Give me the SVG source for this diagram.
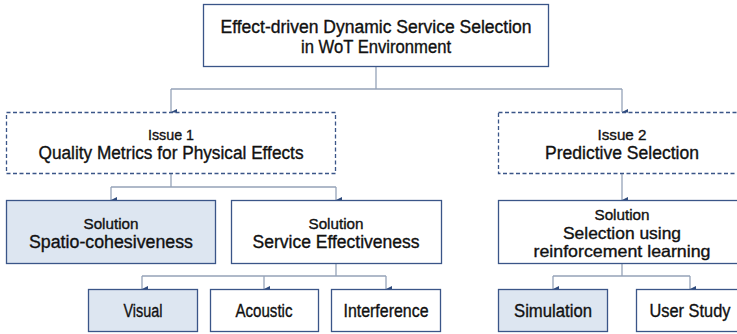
<svg xmlns="http://www.w3.org/2000/svg" width="737" height="334" viewBox="0 0 737 334">
<defs>
<marker id="arr" viewBox="0 0 8 8" refX="4" refY="8" markerWidth="8" markerHeight="8" markerUnits="userSpaceOnUse" orient="auto-start-reverse">
<path d="M1,2 L7,2 L4,8 Z" fill="#2f4b7c"/>
</marker>
<style>
.box{fill:#ffffff;stroke:#3a5588;stroke-width:1.3}
.fill{fill:#dde6f1}
.dash{fill:#ffffff;stroke:#3a5588;stroke-width:1.3;stroke-dasharray:4 2.5}
.conn{fill:none;stroke:#95a3b8;stroke-width:1.3}
.arr{marker-end:url(#arr)}
text{font-family:"Liberation Sans",Arial,sans-serif;fill:#111111;stroke:#111111;stroke-width:0.35;text-anchor:middle}
.big{font-size:18px}
.mid{font-size:16.5px}
.sm{font-size:15px}
</style>
</defs>
<rect width="737" height="334" fill="#ffffff"/>
<g id="connectors">
<path class="conn" d="M376,66 V89 M171,89 H622"/>
<path class="conn arr" d="M171,89 V112"/>
<path class="conn arr" d="M622,89 V112"/>
<path class="conn" d="M171,174 V187 M111,187 H336"/>
<path class="conn arr" d="M111,187 V200"/>
<path class="conn arr" d="M336,187 V200"/>
<path class="conn arr" d="M622,174 V200"/>
<path class="conn" d="M336,263 V276 M142,276 H386"/>
<path class="conn arr" d="M142,276 V289"/>
<path class="conn arr" d="M264,276 V289"/>
<path class="conn arr" d="M386,276 V289"/>
<path class="conn" d="M622,263 V276 M553,276 H690"/>
<path class="conn arr" d="M553,276 V289"/>
<path class="conn arr" d="M690,276 V289"/>
</g>
<g id="root">
<rect class="box" x="203.5" y="4.5" width="345" height="62"/>
<text class="big" x="376" y="33" textLength="311" lengthAdjust="spacingAndGlyphs">Effect-driven Dynamic Service Selection</text>
<text class="big" x="376" y="53" textLength="150" lengthAdjust="spacingAndGlyphs">in WoT Environment</text>
</g>
<g id="issue1">
<rect class="dash" x="6.5" y="112.5" width="329" height="61"/>
<text class="sm" x="171" y="140" textLength="46" lengthAdjust="spacingAndGlyphs">Issue 1</text>
<text class="big" x="171" y="159" textLength="265" lengthAdjust="spacingAndGlyphs">Quality Metrics for Physical Effects</text>
</g>
<g id="issue2">
<rect class="dash" x="498.5" y="112.5" width="250" height="61"/>
<text class="sm" x="622" y="140" textLength="49" lengthAdjust="spacingAndGlyphs">Issue 2</text>
<text class="big" x="622" y="159" textLength="154" lengthAdjust="spacingAndGlyphs">Predictive Selection</text>
</g>
<g id="sol-spatio">
<rect class="box fill" x="6.5" y="200.5" width="209" height="63"/>
<text class="sm" x="111" y="229" textLength="55" lengthAdjust="spacingAndGlyphs">Solution</text>
<text class="big" x="111" y="248" textLength="164" lengthAdjust="spacingAndGlyphs">Spatio-cohesiveness</text>
</g>
<g id="sol-effect">
<rect class="box" x="231.5" y="200.5" width="210" height="63"/>
<text class="sm" x="336" y="229" textLength="55" lengthAdjust="spacingAndGlyphs">Solution</text>
<text class="big" x="336" y="248" textLength="167" lengthAdjust="spacingAndGlyphs">Service Effectiveness</text>
</g>
<g id="sol-rl">
<rect class="box" x="498.5" y="200.5" width="250" height="63"/>
<text class="sm" x="622" y="220" textLength="55" lengthAdjust="spacingAndGlyphs">Solution</text>
<text class="mid" x="622" y="239" textLength="118" lengthAdjust="spacingAndGlyphs">Selection using</text>
<text class="mid" x="622" y="257" textLength="177" lengthAdjust="spacingAndGlyphs">reinforcement learning</text>
</g>
<g id="visual">
<rect class="box fill" x="88.5" y="289.5" width="109" height="42"/>
<text class="big" x="143" y="317" textLength="39" lengthAdjust="spacingAndGlyphs">Visual</text>
</g>
<g id="acoustic">
<rect class="box" x="210.5" y="289.5" width="108" height="42"/>
<text class="big" x="264" y="317" textLength="57" lengthAdjust="spacingAndGlyphs">Acoustic</text>
</g>
<g id="interference">
<rect class="box" x="331.5" y="289.5" width="109" height="42"/>
<text class="big" x="386" y="317" textLength="85" lengthAdjust="spacingAndGlyphs">Interference</text>
</g>
<g id="simulation">
<rect class="box fill" x="498.5" y="289.5" width="109" height="42"/>
<text class="big" x="553" y="317" textLength="78" lengthAdjust="spacingAndGlyphs">Simulation</text>
</g>
<g id="userstudy">
<rect class="box" x="636.5" y="289.5" width="112" height="42"/>
<text class="big" x="690" y="317" textLength="81" lengthAdjust="spacingAndGlyphs">User Study</text>
</g>
</svg>
